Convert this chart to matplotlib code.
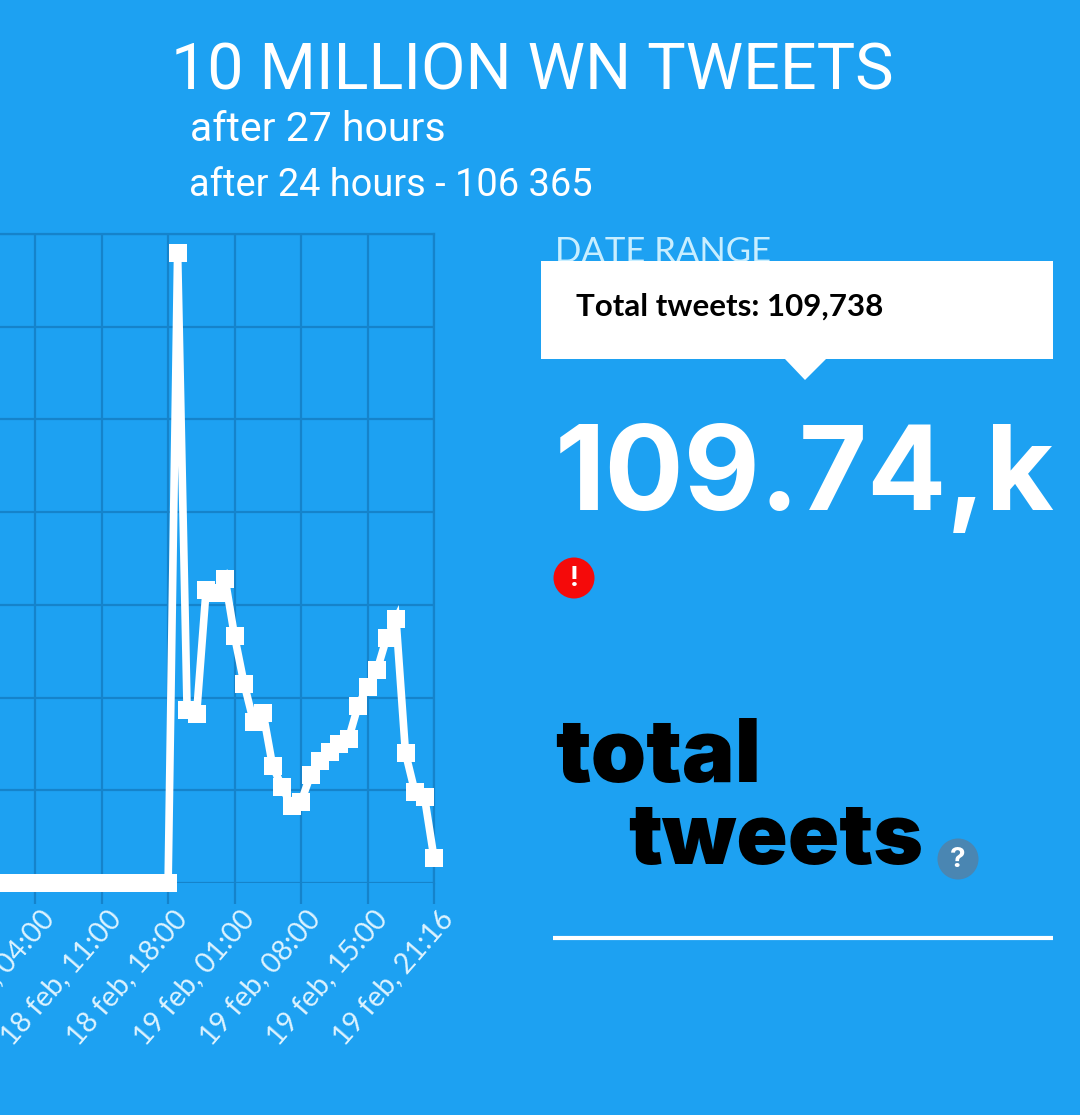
import numpy as np
import matplotlib
matplotlib.use("Agg")
import matplotlib.pyplot as plt
from matplotlib.patches import Rectangle, Polygon, Circle

title = "10 MILLION WN TWEETS"
sub_1 = "after 27 hours"
sub_2 = "after 24 hours - 106 365"
tooltip = "Total tweets: 109,738"
big = "109.74,k"

zeros_before = [0] * 18
tweets_after = [0, 13600, 3730, 3650, 6320, 6260, 6560, 5320, 4300, 3480, 3670,
                2530, 2070, 1660, 1750, 2330, 2640, 2830, 3000, 3110, 3820,
                4230, 4590, 5280, 5690, 2800, 1960, 1850, 540]
tick_idx = [-14, -7, 0, 7, 14, 21, 28]
tick_labels = ["18 feb, 04:00", "18 feb, 11:00", "18 feb, 18:00", "19 feb, 01:00",
               "19 feb, 08:00", "19 feb, 15:00", "19 feb, 21:16"]
y_ticks = [0, 2000, 4000, 6000, 8000, 10000, 12000, 14000]

BG = "#1DA1F2"
GRID = "#1583CB"
W, H = 1080, 1115
fig = plt.figure(figsize=(W / 100, H / 100), dpi=100, facecolor=BG)

# chart
L, R, T, B = 0, 434, 234, 883
ax = fig.add_axes([L / W, 1 - B / H, (R - L) / W, (B - T) / H], facecolor=BG)
values = zeros_before + tweets_after
xs = np.arange(len(values)) - len(zeros_before)
ax.plot(xs, values, color="white", lw=5.5, marker="s", ms=13.5, mew=0,
        solid_joinstyle="miter", clip_on=False, zorder=5)
ax.set_xlim(-168 / 9.49, 28)
ax.set_ylim(0, 14000)
ax.set_xticks(tick_idx)
ax.set_xticklabels([])
for tx, lab in zip(tick_idx, tick_labels):
    ax.annotate(lab, xy=(tx, 0), xycoords=("data", "axes fraction"),
                xytext=(3.6, -16), textcoords="offset points",
                rotation=49, ha="right", va="top", rotation_mode="anchor",
                fontsize=20.5, color="#DDF3FF", family="Lato", annotation_clip=False)
ax.set_yticks(y_ticks)
ax.tick_params(axis="y", length=0, labelleft=False)
ax.tick_params(axis="x", length=15, width=1.6, color=GRID, pad=5)
ax.grid(True, color=GRID, lw=1.6)
ax.set_axisbelow(True)
for s in ("left", "bottom"):
    ax.spines[s].set_visible(False)
for s in ("top", "right"):
    ax.spines[s].set_color(GRID)
    ax.spines[s].set_linewidth(1.6)

# overlay in pixel coordinates
ov = fig.add_axes([0, 0, 1, 1], facecolor="none")
ov.set_xlim(0, W)
ov.set_ylim(H, 0)
ov.axis("off")

ov.text(171, 90, title, color="white", fontsize=46.5, family="Roboto", va="baseline")
ov.text(190, 141, sub_1, color="white", fontsize=29.5, family="Roboto", va="baseline")
ov.text(189, 196, sub_2, color="white", fontsize=27.4, family="Roboto", va="baseline")

ov.text(555, 262, "DATE RANGE", color="#C8EEFF", fontsize=25, family="Lato",
        va="baseline", zorder=1)
ov.add_patch(Rectangle((541, 261), 512, 98, fc="white", ec="none", zorder=2))
ov.add_patch(Polygon([(785, 359), (826, 359), (805, 380)], fc="white", ec="none", zorder=2))
ov.text(576, 316, tooltip, color="black", fontsize=22.5, family="Lato",
        fontweight="bold", va="baseline", zorder=3)

ov.text(555, 510, big, color="white", fontsize=84.5, family="Inter",
        fontweight="bold", va="baseline", zorder=3)

ov.add_patch(Circle((574, 578), 20.5, fc="#F50A0A", ec="none", zorder=3))
ov.text(574, 579, "!", color="white", fontsize=19, family="Inter", fontweight="bold",
        ha="center", va="center", zorder=4)

ov.text(555, 782, "total", color="black", fontsize=64, family="Inter",
        fontweight="black", va="baseline")
ov.text(628, 864, "tweets", color="black", fontsize=61, family="Inter",
        fontweight="black", va="baseline")

ov.add_patch(Circle((958, 859), 20.5, fc="#4A86B2", ec="none", zorder=3))
ov.text(958, 860, "?", color="white", fontsize=20, family="Inter", fontweight="bold",
        ha="center", va="center", zorder=4)

ov.plot([553, 1053], [938, 938], color="white", lw=3, solid_capstyle="butt")

fig.savefig("out.png", dpi=100, facecolor=BG)
